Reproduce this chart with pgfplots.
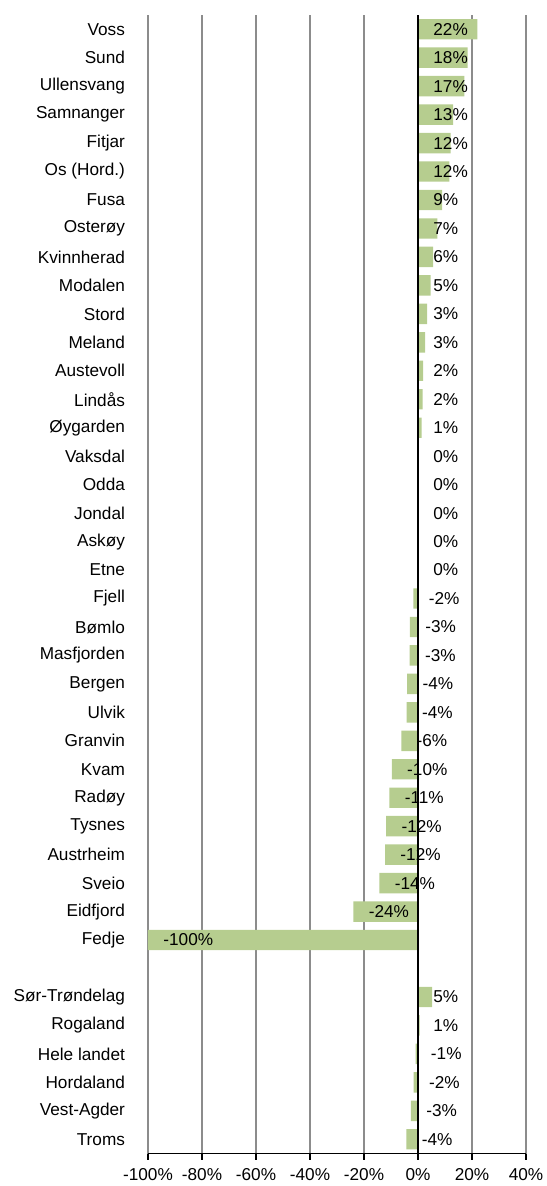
\documentclass[border=0pt]{standalone}
\usepackage{pgfplots}
\usepackage{pgfplotstable}
\usepackage{fontspec}
\setmainfont{Liberation Sans}
\pgfplotsset{compat=1.18}
\definecolor{barg}{RGB}{182,205,143}
\definecolor{gridg}{RGB}{140,140,140}

\pgfplotstableread{
i v
0 22.0
1 18.4
2 17.2
3 13.0
4 12.1
5 11.6
6 8.9
7 7.2
8 5.6
9 4.7
10 3.4
11 2.6
12 1.9
13 1.7
14 1.3
15 0
16 0
17 0
18 0
19 0
20 -1.7
21 -3.0
22 -3.1
23 -4.0
24 -4.2
25 -6.2
26 -9.7
27 -10.6
28 -11.8
29 -12.2
30 -14.3
31 -23.9
32 -100
34 5.2
35 0.6
36 -0.9
37 -1.6
38 -2.6
39 -4.3
}\datatable

\begin{document}
\begin{tikzpicture}
\begin{axis}[
  at={(0,0)}, anchor=south west,
  scale only axis,
  width=189pt, height=569.25pt,
  font=\fontsize{8.6}{10}\selectfont,
  xmin=-100, xmax=40,
  ymin=-0.5, ymax=39.5,
  y dir=reverse,
  axis x line*=bottom,
  axis y line*=left,
  y axis line style={draw=none},
  x axis line style={black, line width=0.9pt},
  xtick={-100,-80,...,40},
  xticklabel={\pgfmathprintnumber{\tick}\%},
  /pgf/number format/assume math mode=true,
  tick align=outside,
  xtick style={black, line width=0.8pt},
  x tick label style={yshift=-1pt},
  xmajorgrids,
  grid style={gridg, line width=0.75pt},
  ytick={0,1,...,32,34,35,...,39},
  yticklabels={{Voss},{Sund},{Ullensvang},{Samnanger},{Fitjar},{Os (Hord.)},{Fusa},{Osterøy},{Kvinnherad},{Modalen},{Stord},{Meland},{Austevoll},{Lindås},{Øygarden},{Vaksdal},{Odda},{Jondal},{Askøy},{Etne},{Fjell},{Bømlo},{Masfjorden},{Bergen},{Ulvik},{Granvin},{Kvam},{Radøy},{Tysnes},{Austrheim},{Sveio},{Eidfjord},{Fedje},{Sør-Trøndelag},{Rogaland},{Hele landet},{Hordaland},{Vest-Agder},{Troms}},
  ytick style={draw=none},
  major tick length=3pt,
  y tick label style={anchor=east, xshift=-5pt},
]
\addplot[xbar, bar width=10.2pt, fill=barg, draw=none] table[x=v, y=i] {\datatable};
\addplot[draw=none, mark=none,
  nodes near coords={\pgfmathprintnumber[fixed, precision=0]{\pgfplotspointmeta}\%},
  point meta=explicit,
  every node near coord/.style={anchor=west, inner sep=0pt, xshift=7.5pt, black, font=\fontsize{8.6}{10}\selectfont}]
  table[x expr={min(\thisrow{v},0)}, y=i, meta=v] {\datatable};
\draw[black, line width=0.9pt] (axis cs:0,-0.5) -- (axis cs:0,39.5);
\pgfplotsinvokeforeach{-0.5,0.5,...,39.5}{
  \draw[black, line width=0.8pt] (axis cs:0,#1) ++(-3pt,0) -- ++(4pt,0);
}
\end{axis}
\pgfresetboundingbox
\path[use as bounding box] (-74pt,-16.25pt) rectangle (199pt,576.75pt);
\end{tikzpicture}
\end{document}
